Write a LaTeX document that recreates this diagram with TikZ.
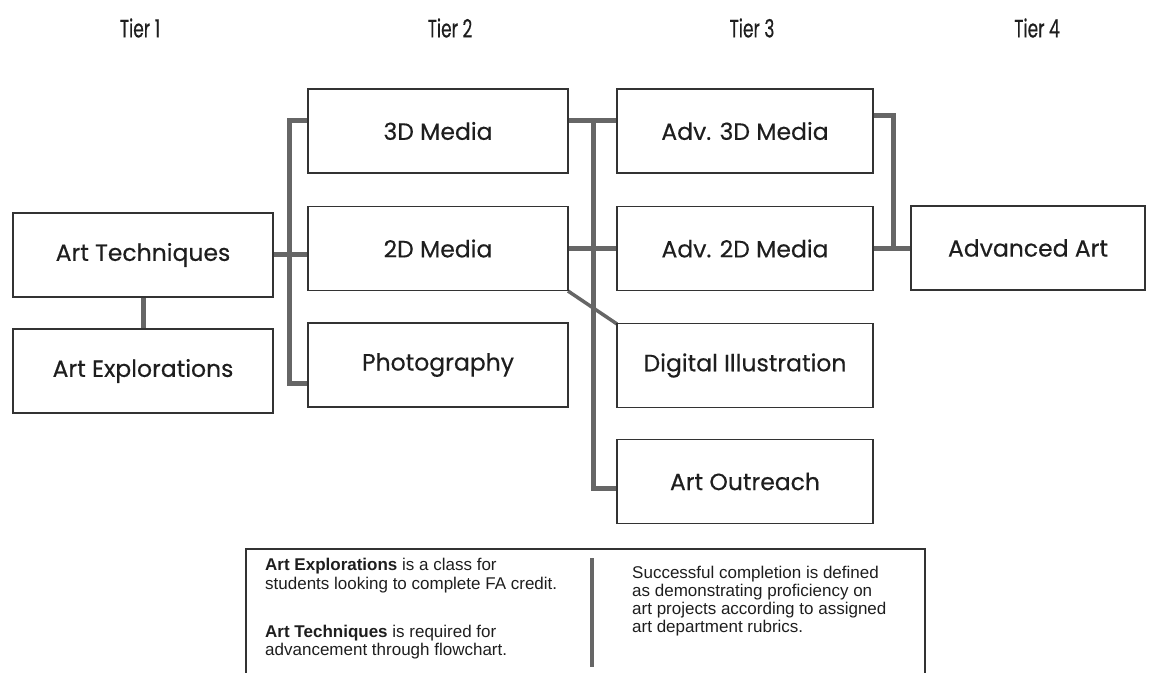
\documentclass[tikz,border=0pt]{standalone}
\usepackage{fontspec}
\setmainfont{Poppins}
\newfontfamily\boxfont{Poppins}[FakeBold=0.35]
\newfontfamily\tierfont{Poppins}[FakeBold=0.5]
\newfontfamily\notefont{Liberation Sans}
\usetikzlibrary{calc}
\definecolor{boxline}{HTML}{333333}
\definecolor{connline}{HTML}{666666}
\definecolor{txt}{HTML}{1E1E1E}
\tikzset{
  course/.style={draw=boxline, line width=1.8pt, fill=white, minimum width=260pt, minimum height=84pt, inner sep=0pt, text=txt, font=\boxfont\fontsize{23.5}{28}\selectfont},
  conn/.style={draw=connline, line width=5pt},
  tierlabel/.style={text=txt, inner sep=0pt, font=\tierfont\fontsize{25}{28}\selectfont},
  notetext/.style={anchor=base west, inner sep=0pt, text=txt, font=\notefont\fontsize{17}{18}\selectfont}
}
\begin{document}
\begin{tikzpicture}[x=1pt,y=-1pt]
\useasboundingbox (0,0) rectangle (1161,672);
% tier labels
\node[tierlabel] (t1) at (140,28) {\scalebox{0.68}[1]{Tier 1}};
\node[tierlabel] (t2) at (450,28) {\scalebox{0.68}[1]{Tier 2}};
\node[tierlabel] (t3) at (752,28) {\scalebox{0.68}[1]{Tier 3}};
\node[tierlabel] (t4) at (1037,28) {\scalebox{0.68}[1]{Tier 4}};
% junctions
\coordinate (j2) at (289,120);
\coordinate (j3) at (593,120);
\coordinate (j4) at (893,115);
% connectors (drawn first, boxes on top)
\draw[conn] (143,297) -- (143,329);
\draw[conn] (273,254) -- (308,254);
\draw[conn] (308,120) -- (j2) |- (312,383);
\draw[conn] (568,120) -- (617,120);
\draw[conn] (j3) |- (617,488);
\draw[conn] (568,248) -- (617,248);
\draw[conn, line width=3.5pt] (568,291) -- (617,324);
\draw[conn] (873,115) -- (j4) |- (911,248);
\draw[conn] (873,248) -- (893,248);
% course boxes
\node[course] (tech) at (143,255) {Art Techniques};
\node[course] (expl) at (143,371) {Art Explorations};
\node[course] (m3d) at (438,131) {3D Media};
\node[course] (m2d) at (438,248.5) {2D Media};
\node[course] (photo) at (438,365) {Photography};
\node[course, minimum width=256pt] (a3d) at (745,131) {Adv. 3D Media};
\node[course, minimum width=256pt] (a2d) at (745,248.5) {Adv. 2D Media};
\node[course, minimum width=256pt] (dig) at (745,365.5) {Digital Illustration};
\node[course, minimum width=256pt] (out) at (745,481.5) {Art Outreach};
\node[course, minimum width=234pt] (adv) at (1028,248) {Advanced Art};
% note box
\draw[boxline, line width=1.8pt] (246,549) rectangle (925,674);
\draw[conn, line width=4.5pt] (592,558) -- (592,667);
\node[notetext] (n1) at (265,570) {\textbf{Art Explorations} is a class for};
\node[notetext] (n2) at (265,589) {students looking to complete FA credit.};
\node[notetext] (n3) at (265,637) {\textbf{Art Techniques} is required for};
\node[notetext] (n4) at (265,655) {advancement through flowchart.};
\node[notetext] (r1) at (632,578) {Successful completion is defined};
\node[notetext] (r2) at (632,596) {as demonstrating proficiency on};
\node[notetext] (r3) at (632,614) {art projects according to assigned};
\node[notetext] (r4) at (632,632) {art department rubrics.};
\end{tikzpicture}
\end{document}
